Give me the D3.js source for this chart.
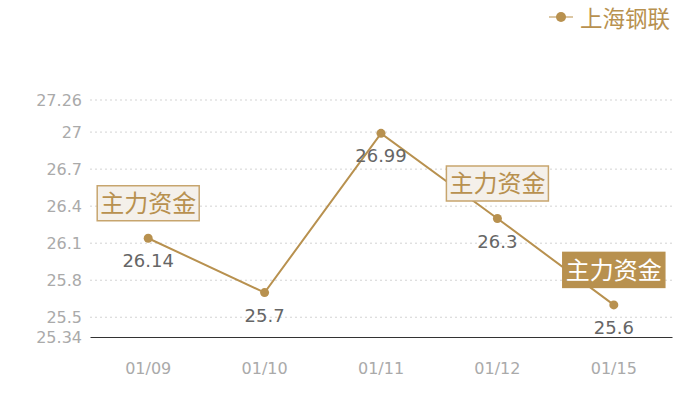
<!DOCTYPE html>
<html><head><meta charset="utf-8">
<script src="https://cdn.jsdelivr.net/npm/d3@7"></script>
<style>
html,body{margin:0;padding:0;background:#fff;}
svg text{font-family:"DejaVu Sans","Noto Sans CJK SC",sans-serif;}
</style></head>
<body><svg id="c" width="700" height="400"></svg>
<script>
const categories = ["01/09","01/10","01/11","01/12","01/15"];
const seriesName = "上海钢联";
const values = [26.14, 25.7, 26.99, 26.3, 25.6];
const yTicks = [25.34, 25.5, 25.8, 26.1, 26.4, 26.7, 27, 27.26];
const annotationText = "主力资金";
const annotations = [{i:0, filled:false},{i:3, filled:false},{i:4, filled:true}];

const gold = "#b8914f";
const svg = d3.select("#c");
const margin = {left:90, right:28, top:100, bottom:63};
const W = 700, H = 400;
const x = d3.scaleBand().domain(categories).range([margin.left, W - margin.right]);
const y = d3.scaleLinear().domain([25.34, 27.26]).range([H - margin.bottom, margin.top]);

// grid
svg.append("g").selectAll("line").data(yTicks.filter(t => t !== 25.34)).join("line")
  .attr("x1", margin.left).attr("x2", W - margin.right)
  .attr("y1", d => y(d)).attr("y2", d => y(d))
  .attr("stroke", "#d3d3d3").attr("stroke-dasharray", "2,3");

// y axis
const yAxis = d3.axisLeft(y).tickValues(yTicks).tickSize(0).tickPadding(8).tickFormat(d => String(d));
const gy = svg.append("g").attr("transform", `translate(${margin.left},0)`).call(yAxis);
gy.select(".domain").remove();
gy.selectAll("text").attr("fill", "#aaaaaa").attr("font-size", 16);

// x axis
const xAxis = d3.axisBottom(x).tickSize(0).tickPadding(26);
const gx = svg.append("g").attr("transform", `translate(0,${y(25.34)})`).call(xAxis);
gx.select(".domain").attr("stroke", "#333").attr("stroke-width", 1.2);
gx.selectAll("text").attr("fill", "#aaaaaa").attr("font-size", 16);

const cx = d => x(d) + x.bandwidth() / 2;

// line
const line = d3.line().x((d, i) => cx(categories[i])).y(d => y(d));
svg.append("path").datum(values).attr("d", line)
  .attr("fill", "none").attr("stroke", gold).attr("stroke-width", 2);

svg.append("g").selectAll("circle").data(values).join("circle")
  .attr("cx", (d, i) => cx(categories[i])).attr("cy", d => y(d)).attr("r", 4.5)
  .attr("fill", gold);

// value labels
svg.append("g").selectAll("text").data(values).join("text")
  .attr("x", (d, i) => cx(categories[i])).attr("y", d => y(d) + 29)
  .attr("text-anchor", "middle").attr("fill", "#666").attr("font-size", 18)
  .text(d => String(d));

// annotations
const ag = svg.append("g").selectAll("g").data(annotations).join("g")
  .attr("transform", d => `translate(${cx(categories[d.i])},${y(values[d.i]) - 35})`);
ag.append("rect").attr("x", -51).attr("y", -17.5).attr("width", 102).attr("height", 35)
  .attr("fill", d => d.filled ? gold : "#f4f0ea")
  .attr("stroke", d => d.filled ? gold : "#c7a56e").attr("stroke-width", 1.5);
ag.append("text").attr("text-anchor", "middle").attr("dy", "0.36em")
  .attr("font-size", 24).style("font-family", "'Noto Sans CJK SC'")
  .attr("fill", d => d.filled ? "#fff" : gold).text(annotationText);

// legend
const lg = svg.append("g").attr("transform", "translate(561,17)");
lg.append("line").attr("x1", -12).attr("x2", 12).attr("stroke", "#dcc7a3").attr("stroke-width", 2);
lg.append("circle").attr("r", 5).attr("fill", gold);
lg.append("text").attr("x", 19).attr("y", 1.5).attr("dy", "0.36em").attr("font-size", 22.5)
  .style("font-family", "'Noto Sans CJK SC'").attr("fill", gold).text(seriesName);
</script></body></html>
